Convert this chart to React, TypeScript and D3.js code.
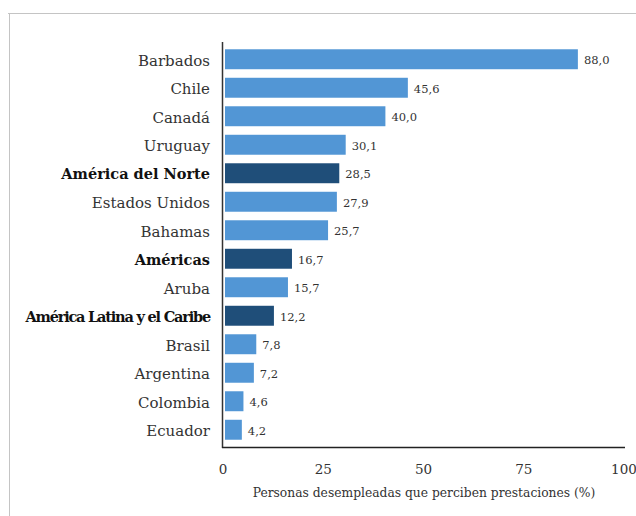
import React from "react";
import * as d3 from "d3";

const categories = [
  "Barbados",
  "Chile",
  "Canadá",
  "Uruguay",
  "América del Norte",
  "Estados Unidos",
  "Bahamas",
  "Américas",
  "Aruba",
  "América Latina y el Caribe",
  "Brasil",
  "Argentina",
  "Colombia",
  "Ecuador",
];
const values = [88.0, 45.6, 40.0, 30.1, 28.5, 27.9, 25.7, 16.7, 15.7, 12.2, 7.8, 7.2, 4.6, 4.2];
const aggregates = ["América del Norte", "Américas", "América Latina y el Caribe"];
const xTicks = [0, 25, 50, 75, 100];
const xTitle = "Personas desempleadas que perciben prestaciones (%)";

const W = 636;
const H = 516;
const FONT = "DejaVu Serif";

export default function App() {
  const x = d3.scaleLinear().domain([0, 100]).range([225, 626]);
  const y = d3
    .scaleBand<string>()
    .domain(categories)
    .range([45, 444])
    .paddingInner(0.3)
    .paddingOuter(0.15);
  const fmt = (v: number) => v.toFixed(1).replace(".", ",");

  return (
    <svg
      width={W}
      height={H}
      style={{ position: "absolute", left: 0, top: 0, background: "#fff" }}
    >
      {/* frame */}
      <line x1={8} x2={W} y1={13.5} y2={13.5} stroke="#c4c4c4" strokeWidth={1} />
      <line x1={9.5} x2={9.5} y1={13} y2={H} stroke="#c4c4c4" strokeWidth={1} />

      {/* bars */}
      {categories.map((c, i) => {
        const agg = aggregates.includes(c);
        const long = c.length > 20;
        const yy = y(c)!;
        const cy = yy + y.bandwidth() / 2 + 1;
        return (
          <g key={c}>
            <rect
              x={x(0)}
              y={yy}
              width={x(values[i]) - x(0)}
              height={y.bandwidth()}
              fill={agg ? "#1f4e79" : "#5296d5"}
            />
            <text
              x={x(values[i]) + 6}
              y={cy}
              dy="0.35em"
              fontFamily={FONT}
              fontSize={11.5}
              fill="#333"
            >
              {fmt(values[i])}
            </text>
            <text
              x={210}
              y={cy}
              dy="0.35em"
              textAnchor="end"
              fontFamily={FONT}
              fontSize={agg ? 14.5 : 15}
              fontWeight={agg ? "bold" : "normal"}
              fill={agg ? "#111" : "#333"}
              letterSpacing={long ? -1.2 : 0}
            >
              {c}
            </text>
          </g>
        );
      })}

      {/* axes */}
      <line x1={222.5} x2={222.5} y1={42} y2={448} stroke="#333" strokeWidth={1.5} />
      <line x1={222} x2={x(100) - 1} y1={447.5} y2={447.5} stroke="#222" strokeWidth={1.5} />
      {xTicks.map((t) => (
        <text
          key={t}
          x={x(t) - 2}
          y={469}
          dy="0.35em"
          textAnchor="middle"
          fontFamily={FONT}
          fontSize={13.5}
          fill="#333"
        >
          {t}
        </text>
      ))}
      <text
        x={424}
        y={493}
        dy="0.35em"
        textAnchor="middle"
        fontFamily={FONT}
        fontSize={12.3}
        fill="#333"
      >
        {xTitle}
      </text>
    </svg>
  );
}
